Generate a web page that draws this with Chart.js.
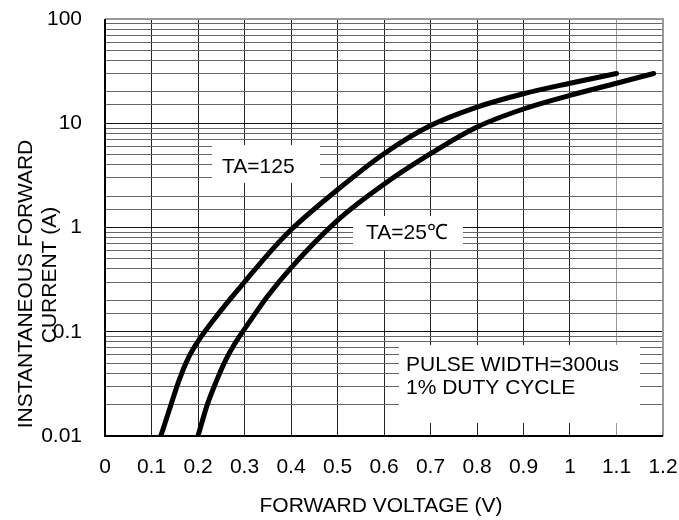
<!DOCTYPE html>
<html>
<head>
<meta charset="UTF-8">
<title>Forward characteristics</title>
<script src="https://cdn.jsdelivr.net/npm/chart.js"></script>
<style>
    body { margin: 0; background: #fff; }
    #wrap { width: 679px; height: 520px; position: relative; }
</style>
</head>
<body>
<div id="wrap"><canvas id="fwdChart"></canvas></div>
<script>
// forward voltage (V) / current (A)
const volts125 = [0.12, 0.14, 0.16, 0.18, 0.2, 0.23, 0.27, 0.3, 0.35, 0.4, 0.5, 0.6, 0.7, 0.8, 0.9, 1.0, 1.1];
const amps125  = [0.01, 0.0188, 0.035, 0.057, 0.081, 0.124, 0.208, 0.3, 0.55, 0.95, 2.3, 5.1, 9.5, 14.3, 19.2, 24.2, 30];
const volts25  = [0.2, 0.22, 0.24, 0.26, 0.28, 0.31, 0.35, 0.4, 0.5, 0.6, 0.7, 0.8, 0.9, 1.0, 1.1, 1.18];
const amps25   = [0.01, 0.02, 0.034, 0.054, 0.078, 0.123, 0.22, 0.41, 1.17, 2.6, 5.1, 9.2, 13.7, 18.5, 24.2, 30];
const yTickLabels = ['0.01', '0.1', '1', '10', '100'];

const FONT = "'Liberation Sans', Arial, sans-serif";

function toPoints(xs, ys) {
    return xs.map((v, i) => ({ x: v, y: ys[i] }));
}
function isDecade(v) {
    const l = Math.log10(v);
    return Math.abs(l - Math.round(l)) < 1e-6;
}

// white label boxes, axis titles and frame
const decor = {
    id: 'decor',
    beforeDraw(chart) {
        const c = chart.ctx;
        c.save();
        c.fillStyle = '#fff';
        c.fillRect(0, 0, chart.width, chart.height);
        c.restore();
    },
    beforeDatasetsDraw(chart) {
        const c = chart.ctx;
        c.save();
        c.fillStyle = '#fff';
        c.fillRect(212, 145, 108, 38);
        c.fillRect(353, 216, 110, 34);
        c.fillRect(399, 345, 241, 78);
        c.fillStyle = '#000';
        c.font = '21px ' + FONT;
        c.textBaseline = 'alphabetic';
        c.textAlign = 'left';
        c.fillText('TA=125', 222, 173);
        c.fillText('TA=25\u2103', 366, 239);
        c.fillText('PULSE WIDTH=300us', 406, 371);
        c.fillText('1% DUTY CYCLE', 406, 394);
        c.restore();
    },
    afterDraw(chart) {
        const c = chart.ctx;
        const a = chart.chartArea;
        c.save();
        c.lineWidth = 2;
        c.strokeStyle = '#999';
        c.beginPath();
        c.moveTo(a.left, a.top); c.lineTo(a.right, a.top); c.lineTo(a.right, a.bottom);
        c.stroke();
        c.strokeStyle = '#000';
        c.beginPath();
        c.moveTo(a.left, a.top); c.lineTo(a.left, a.bottom); c.lineTo(a.right, a.bottom);
        c.stroke();

        c.fillStyle = '#000';
        c.font = '21px ' + FONT;
        c.textBaseline = 'alphabetic';
        c.textAlign = 'center';
        c.fillText('FORWARD VOLTAGE (V)', 381, 512);
        c.translate(32, 284);
        c.rotate(-Math.PI / 2);
        c.fillText('INSTANTANEOUS FORWARD', 0, 0);
        c.fillText('CURRENT (A)', 9, 24);
        c.restore();
    }
};

new Chart(document.getElementById('fwdChart'), {
    type: 'line',
    data: {
        datasets: [
            {
                label: 'TA=125',
                data: toPoints(volts125, amps125),
                borderColor: '#000',
                borderWidth: 5,
                borderCapStyle: 'round',
                pointRadius: 0,
                cubicInterpolationMode: 'monotone'
            },
            {
                label: 'TA=25',
                data: toPoints(volts25, amps25),
                borderColor: '#000',
                borderWidth: 5,
                borderCapStyle: 'round',
                pointRadius: 0,
                cubicInterpolationMode: 'monotone'
            }
        ]
    },
    options: {
        responsive: true,
        maintainAspectRatio: false,
        animation: false,
        layout: { padding: { top: 19, right: 16, left: 0, bottom: 0 } },
        plugins: { legend: { display: false }, tooltip: { enabled: false } },
        scales: {
            x: {
                type: 'linear',
                min: 0,
                max: 1.2,
                afterFit(s) { s.height = 84; s.paddingLeft = 0; s.paddingRight = 0; },
                border: { display: false },
                grid: {
                    drawTicks: false,
                    color: ctx => {
                        const v = Math.round(ctx.tick.value * 10);
                        if (v === 0 || v === 12) return 'rgba(0,0,0,0)';
                        return v === 11 ? '#999' : '#222';
                    }
                },
                ticks: {
                    stepSize: 0.1,
                    padding: 19,
                    color: '#000',
                    font: { family: FONT, size: 21 },
                    callback: v => String(Math.round(v * 10) / 10)
                }
            },
            y: {
                type: 'logarithmic',
                min: 0.01,
                max: 100,
                afterFit(s) { s.width = 105; s.paddingTop = 0; s.paddingBottom = 0; },
                border: { display: false },
                grid: {
                    drawTicks: false,
                    color: ctx => isDecade(ctx.tick.value) ? '#111' : '#666'
                },
                ticks: {
                    autoSkip: false,
                    padding: 23,
                    color: '#000',
                    font: { family: FONT, size: 21 },
                    callback: v => {
                        if (!isDecade(v)) return '';
                        const s = String(Number(v.toPrecision(3)));
                        return yTickLabels.includes(s) ? s : '';
                    }
                }
            }
        }
    },
    plugins: [decor]
});
</script>
</body>
</html>
